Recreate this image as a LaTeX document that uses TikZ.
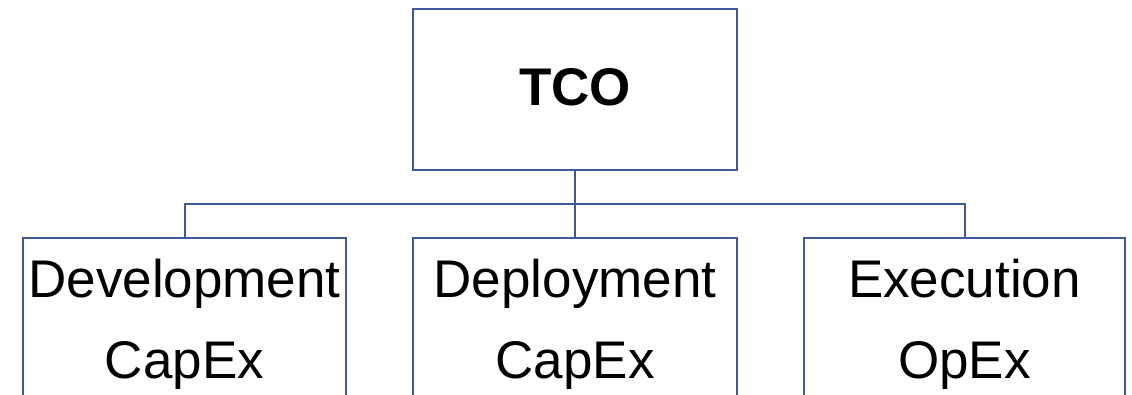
\documentclass[tikz,border=0pt]{standalone}
\usepackage{fontspec}
\setmainfont{Liberation Sans}
\definecolor{boxblue}{RGB}{64,88,156}
\begin{document}
\begin{tikzpicture}[x=1pt,y=-1pt,
  box/.style={draw=boxblue, line width=2pt, inner sep=0pt, outer sep=0pt, fill=white},
  wire/.style={draw=boxblue, line width=2pt},
  lbl/.style={inner sep=0pt, anchor=base, font=\fontsize{53}{60}\selectfont}]
\useasboundingbox (0,0) rectangle (1132,395);
\clip (0,0) rectangle (1132,395);
% top box
\node[box, minimum width=324pt, minimum height=161pt, anchor=north west] (tco) at (413,9) {};
\node[lbl, font=\fontsize{53}{60}\selectfont\bfseries] (tcot) at (575,106) {TCO};
% child boxes (run off the lower edge)
\node[box, minimum width=323pt, minimum height=220pt, anchor=north west] (dev) at (23,238) {};
\node[box, minimum width=324pt, minimum height=220pt, anchor=north west] (dep) at (413,238) {};
\node[box, minimum width=321pt, minimum height=220pt, anchor=north west] (exe) at (804,238) {};
% labels
\node[lbl] (dev1) at (184.5,298) {Development};
\node[lbl] (dev2) at (184.5,378) {CapEx};
\node[lbl] (dep1) at (575,298) {Deployment};
\node[lbl] (dep2) at (575,378) {CapEx};
\node[lbl] (exe1) at (964.5,298) {Execution};
\node[lbl] (exe2) at (964.5,378) {OpEx};
% connectors
\coordinate (bus) at (575,204);
\draw[wire] (tco.south) -- (bus);
\draw[wire] (dev.north) |- (bus) -| (exe.north);
\draw[wire] (bus) -- (dep.north);
\end{tikzpicture}
\end{document}
